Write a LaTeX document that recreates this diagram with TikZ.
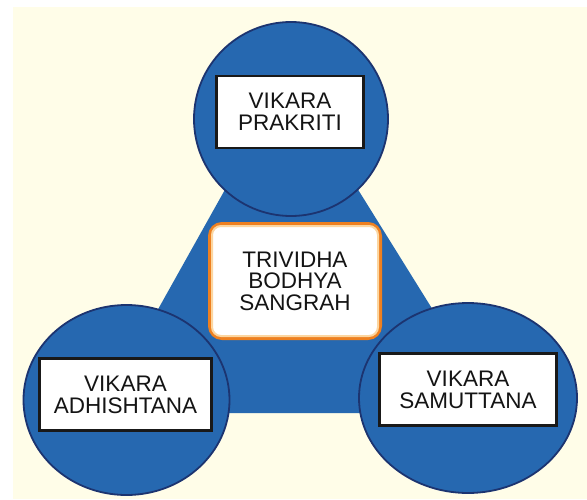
\documentclass[tikz,border=0pt]{standalone}
\usepackage{fontspec}
\setmainfont{Liberation Sans}
\usetikzlibrary{shapes.geometric}
\definecolor{creamBg}{RGB}{255,253,232}
\definecolor{blueFill}{RGB}{38,104,176}
\definecolor{navyLine}{RGB}{28,52,112}
\definecolor{orangeLine}{RGB}{238,128,32}
\definecolor{orangeGlow}{RGB}{252,214,160}
\begin{document}
\begin{tikzpicture}[x=1pt,y=-1pt,
		bubble/.style={ellipse,fill=blueFill,draw=navyLine,line width=1.8pt,inner sep=0pt},
		namebox/.style={rectangle,draw=black!90,fill=white,line width=2.8pt,inner sep=0pt,
			minimum height=72pt,align=center,text=black!92,
			font=\fontsize{22.5}{22}\selectfont},
		centrebox/.style={rectangle,rounded corners=12pt,draw=orangeLine,fill=white,
			line width=4pt,inner sep=0pt,minimum width=170pt,minimum height=114pt,
			align=center,text=black!92,font=\fontsize{22.5}{21.5}\selectfont}]
		\useasboundingbox (0,0) rectangle (587,499);
		\fill[creamBg] (13,7) rectangle (587,499);

		% triangle behind the three circles
		\coordinate (apex) at (288,77);
		\coordinate (baseL) at (100,413);
		\coordinate (baseR) at (497,413);
		\fill[blueFill] (apex) -- (baseL) -- (baseR) -- cycle;

		\node[bubble,minimum width=194pt,minimum height=194pt] (topc) at (291,119) {};
		\node[bubble,minimum width=206pt,minimum height=190pt] (leftc) at (126.5,400) {};
		\node[bubble,minimum width=218pt,minimum height=190pt] (rightc) at (468,398) {};

		\node[namebox,minimum width=147pt] (prakriti) at (290,112) {VIKARA\\PRAKRITI};
		\node[namebox,minimum width=172pt] (adhishtana) at (125.5,394.5) {VIKARA\\ADHISHTANA};
		\node[namebox,minimum width=177pt] (samuttana) at (468,389.5) {VIKARA\\SAMUTTANA};

		\node[centrebox] (sangrah) at (295,281) {};
		\draw[orangeGlow,line width=2pt,rounded corners=9pt]
			([xshift=4pt,yshift=-4pt]sangrah.north west) rectangle ([xshift=-4pt,yshift=4pt]sangrah.south east);
		\node[align=center,text=black!92,font=\fontsize{22.5}{21.5}\selectfont] (sangrahtext) at (sangrah.center) {TRIVIDHA\\BODHYA\\SANGRAH};
	\end{tikzpicture}
\end{document}
